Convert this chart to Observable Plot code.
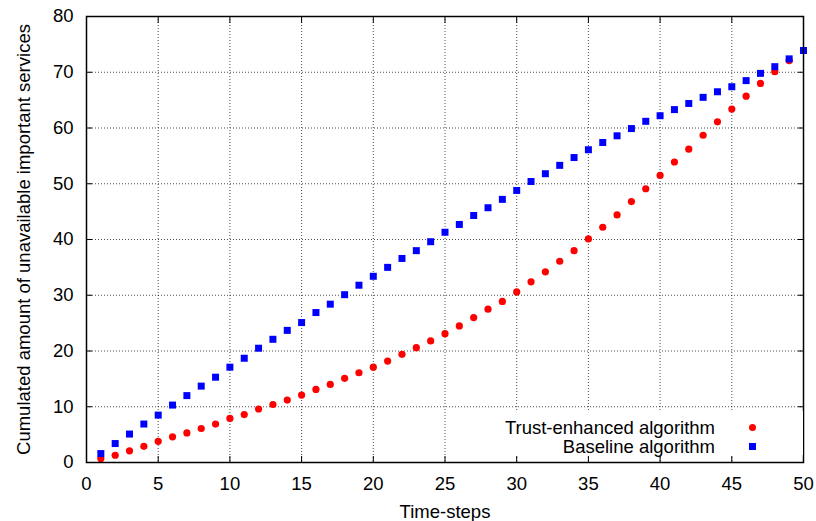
<!DOCTYPE html>
<html><head><meta charset="utf-8">
<script src="https://cdn.jsdelivr.net/npm/d3@7"></script>
<script src="https://cdn.jsdelivr.net/npm/@observablehq/plot@0.6"></script>
<style>
body{margin:0;background:#fff;}
#wrap{position:relative;width:816px;height:521px;font-family:"Liberation Sans",Arial,Helvetica,sans-serif;}
#legend{position:absolute;left:490px;top:411px;width:313px;height:44px;background:#fff;font-size:18.5px;color:#000;}
.row{position:absolute;right:88px;height:20px;line-height:20px;white-space:nowrap;text-align:right;}
.sw{position:absolute;}
</style>
</head><body>
<div id="wrap"><div id="chart"></div><div id="legend"></div></div>
<script>
const steps = [1,2,3,4,5,6,7,8,9,10,11,12,13,14,15,16,17,18,19,20,21,22,23,24,25,26,27,28,29,30,31,32,33,34,35,36,37,38,39,40,41,42,43,44,45,46,47,48,49,50];
const trust = [0.7,1.3,2.1,2.9,3.8,4.6,5.3,6.1,6.9,7.9,8.6,9.6,10.4,11.2,12.1,13.1,14.0,15.1,16.1,17.1,18.2,19.4,20.6,21.8,23.1,24.5,26.0,27.5,28.9,30.6,32.4,34.2,36.1,38.0,40.1,42.2,44.4,46.8,49.1,51.5,53.9,56.2,58.7,61.1,63.4,65.7,68.0,70.1,72.1,73.9];
const baseline = [1.6,3.4,5.1,6.9,8.5,10.3,12.0,13.7,15.3,17.1,18.7,20.5,22.1,23.7,25.1,26.9,28.4,30.1,31.8,33.4,35.0,36.6,38.0,39.6,41.3,42.7,44.3,45.7,47.2,48.8,50.4,51.8,53.3,54.7,56.1,57.4,58.6,59.9,61.2,62.2,63.3,64.4,65.5,66.5,67.4,68.5,69.8,71.0,72.4,73.9];
const xTicks = [0,5,10,15,20,25,30,35,40,45,50];
const yTicks = [0,10,20,30,40,50,60,70,80];
const seriesNames = ["Trust-enhanced algorithm","Baseline algorithm"];
const seriesColors = ["#ff0000","#0000ff"];
const xLabel = "Time-steps";
const yLabel = "Cumulated amount of unavailable important services";

const trustData = steps.map((s,i)=>({x:s,y:trust[i]}));
const baseData = steps.map((s,i)=>({x:s,y:baseline[i]}));
const gridStyle = {stroke:"#000", strokeOpacity:0.7, strokeDasharray:"1,2", strokeWidth:1};

const chart = Plot.plot({
  width:816, height:521,
  marginLeft:86, marginRight:13, marginTop:16, marginBottom:59,
  style:{fontFamily:"'Liberation Sans',Arial,Helvetica,sans-serif", fontSize:"18.5px", color:"#000", background:"#fff"},
  x:{domain:[0,50]},
  y:{domain:[0,80]},
  marks:[
    Plot.gridX(xTicks.slice(1,-1), gridStyle),
    Plot.gridY(yTicks.slice(1,-1), gridStyle),
    Plot.dot(trustData, {x:"x", y:"y", r:3.6, fill:seriesColors[0], stroke:null}),
    Plot.dot(baseData, {x:"x", y:"y", r:3.95, symbol:"square", fill:seriesColors[1], stroke:null}),
    Plot.axisX(xTicks, {anchor:"bottom", tickSize:-6, tickPadding:20, label:xLabel, labelAnchor:"center", labelOffset:55, labelArrow:"none"}),
    Plot.axisX(xTicks, {anchor:"top", tickSize:-6, tickFormat:()=>"", label:null}),
    Plot.axisY(yTicks, {anchor:"left", tickSize:-6, tickPadding:19, label:yLabel, labelAnchor:"center", labelOffset:70, labelArrow:"none"}),
    Plot.axisY(yTicks, {anchor:"right", tickSize:-6, tickFormat:()=>"", label:null}),
    Plot.frame({stroke:"#000", strokeWidth:1.5})
  ]
});
document.getElementById("chart").append(chart);

const legend = document.getElementById("legend");
seriesNames.forEach((name,i)=>{
  const row = document.createElement("div");
  row.className = "row";
  row.style.top = (7 + i*19) + "px";
  row.textContent = name;
  legend.append(row);
  const sw = document.createElement("div");
  sw.className = "sw";
  sw.style.left = "259px";
  sw.style.top = (12.5 + i*19) + "px";
  sw.style.width = "7px"; sw.style.height = "7px";
  sw.style.background = seriesColors[i];
  if (i===0) sw.style.borderRadius = "50%";
  legend.append(sw);
});
</script>
</body></html>
